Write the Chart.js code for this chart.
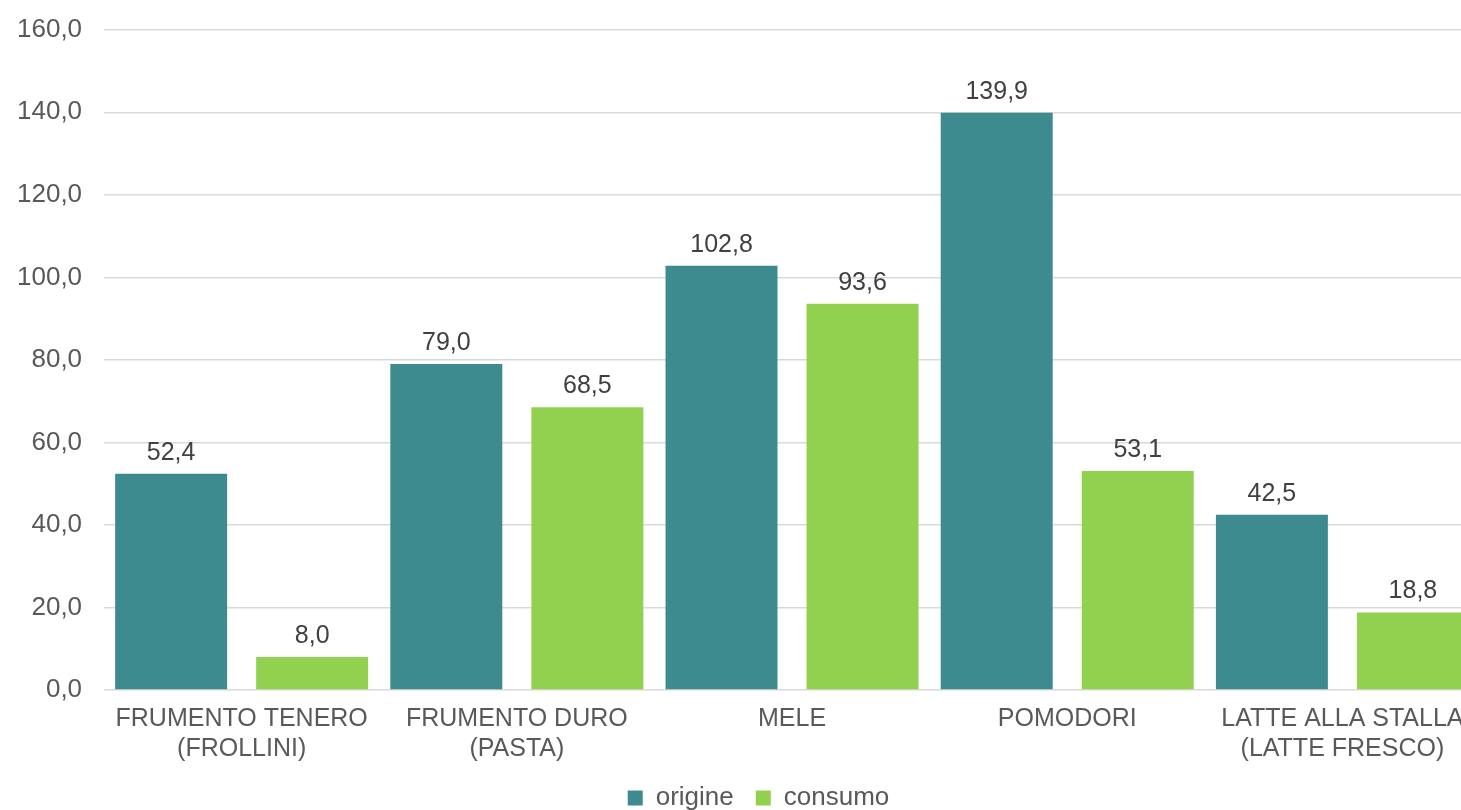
<!DOCTYPE html>
<html>
<head>
<meta charset="utf-8">
<script src="https://cdn.jsdelivr.net/npm/chart.js@4.4.0/dist/chart.umd.min.js"></script>
<style>
  html, body { margin: 0; padding: 0; background: #fff; overflow: hidden; }
  #wrap { width: 1518px; height: 810px; position: relative; }
</style>
</head>
<body>
<div id="wrap"><canvas id="barChart"></canvas></div>
<script>
const categories = [
  ['FRUMENTO TENERO', '(FROLLINI)'],
  ['FRUMENTO DURO', '(PASTA)'],
  'MELE',
  'POMODORI',
  ['LATTE ALLA STALLA', '(LATTE FRESCO)']
];
const origine = [52.4, 79.0, 102.8, 139.9, 42.5];
const consumo = [8.0, 68.5, 93.6, 53.1, 18.8];
const yTicks = { min: 0, max: 160, step: 20 };

const FONT = '"Liberation Sans", Arial, sans-serif';
const fmt = v => Number(v).toFixed(1).replace('.', ',');

// Draw the value above each bar (no datalabels plugin available offline)
const valueLabels = {
  id: 'valueLabels',
  afterDatasetsDraw(chart) {
    const ctx = chart.ctx;
    ctx.save();
    ctx.font = '25px ' + FONT;
    ctx.fillStyle = '#404040';
    ctx.textAlign = 'center';
    ctx.textBaseline = 'alphabetic';
    chart.data.datasets.forEach((ds, i) => {
      chart.getDatasetMeta(i).data.forEach((bar, j) => {
        ctx.fillText(fmt(ds.data[j]), bar.x, bar.y - 14);
      });
    });
    ctx.restore();
  }
};

// Legend is centred on the whole chart width, not between the paddings
const legendShift = {
  id: 'legendShift',
  afterLayout(chart) {
    if (chart.legend) {
      chart.legend.left += 21;
      chart.legend.right += 21;
    }
  }
};

const ctx = document.getElementById('barChart').getContext('2d');
new Chart(ctx, {
  type: 'bar',
  data: {
    labels: categories,
    datasets: [
      { label: 'origine', data: origine, backgroundColor: '#3D8A8F' },
      { label: 'consumo', data: consumo, backgroundColor: '#92D050' }
    ]
  },
  options: {
    responsive: true,
    maintainAspectRatio: false,
    animation: false,
    devicePixelRatio: 1,
    categoryPercentage: 1.025,
    barPercentage: 0.794,
    layout: { padding: { left: -5, right: 38, top: 0, bottom: -11 } },
    font: { family: FONT },
    plugins: {
      tooltip: { enabled: false },
      legend: {
        display: true,
        position: 'bottom',
        labels: {
          color: '#595959',
          font: { size: 26, family: FONT },
          boxWidth: 15,
          boxHeight: 15,
          padding: 22
        }
      }
    },
    scales: {
      x: {
        grid: { display: false },
        border: { display: false },
        afterFit: s => { s.height -= 7; },
        ticks: {
          color: '#595959',
          padding: 6,
          maxRotation: 0,
          autoSkip: false,
          font: { size: 25, family: FONT, lineHeight: 1.2 }
        }
      },
      y: {
        min: yTicks.min,
        max: yTicks.max,
        border: { display: false },
        grid: { color: '#D9D9D9', lineWidth: 1.5, drawTicks: false },
        ticks: {
          stepSize: yTicks.step,
          color: '#595959',
          padding: 22,
          font: { size: 26, family: FONT, lineHeight: 0.6 },
          callback: v => fmt(v)
        }
      }
    }
  },
  plugins: [valueLabels, legendShift]
});
</script>
</body>
</html>
